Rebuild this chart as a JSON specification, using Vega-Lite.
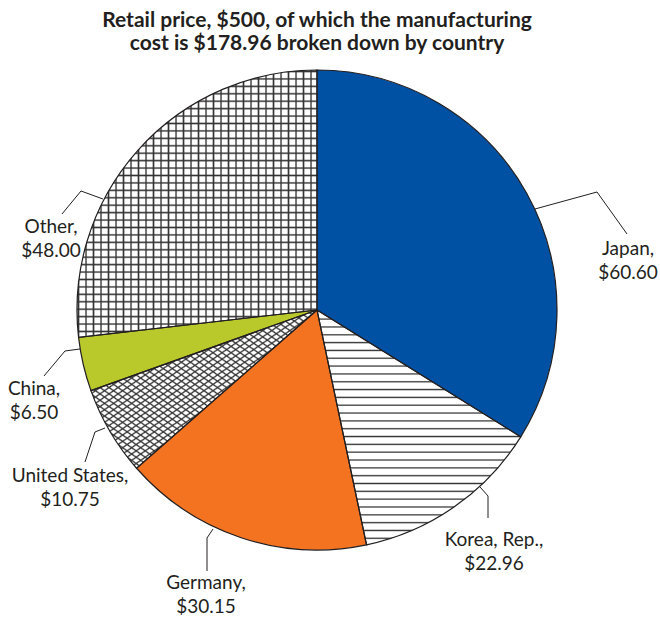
{
"$schema":"https://vega.github.io/schema/vega-lite/v6.json",
"width":634,"height":500,"autosize":"none",
"padding":{"left":0,"top":60,"right":26,"bottom":59},
"config":{"view":{"stroke":null}},
"title":{"text":["Retail price, $500, of which the manufacturing","cost is $178.96 broken down by country"],"font":"Lato","fontSize":21,"fontWeight":"bold","color":"#231F20","lineHeight":23,"anchor":"middle","offset":6},
"datasets":{
"costs":[
{"country":"Japan","value":60.60,"rank":1},
{"country":"Korea, Rep.","value":22.96,"rank":2},
{"country":"Germany","value":30.15,"rank":3},
{"country":"United States","value":10.75,"rank":4},
{"country":"China","value":6.50,"rank":5},
{"country":"Other","value":48.00,"rank":6}],
"leaders":[
{"country":"Japan","seq":1,"lx":0.9083,"ly":0.4208},{"country":"Japan","seq":2,"lx":1.1667,"ly":0.4917},{"country":"Japan","seq":3,"lx":1.2917,"ly":0.3167},
{"country":"Korea, Rep.","seq":1,"lx":0.6792,"ly":-0.7375},{"country":"Korea, Rep.","seq":2,"lx":0.7125,"ly":-0.775},{"country":"Korea, Rep.","seq":3,"lx":0.7125,"ly":-0.8667},
{"country":"Germany","seq":1,"lx":-0.4333,"ly":-0.9125},{"country":"Germany","seq":2,"lx":-0.4583,"ly":-0.95},{"country":"Germany","seq":3,"lx":-0.4583,"ly":-1.0875},
{"country":"United States","seq":1,"lx":-0.8833,"ly":-0.4917},{"country":"United States","seq":2,"lx":-0.925,"ly":-0.5083},{"country":"United States","seq":3,"lx":-0.9667,"ly":-0.6333},
{"country":"China","seq":1,"lx":-0.9875,"ly":-0.1625},{"country":"China","seq":2,"lx":-1.05,"ly":-0.1708},{"country":"China","seq":3,"lx":-1.1375,"ly":-0.275},
{"country":"Other","seq":1,"lx":-0.8917,"ly":0.4625},{"country":"Other","seq":2,"lx":-0.9833,"ly":0.4958},{"country":"Other","seq":3,"lx":-1.0625,"ly":0.4}],
"labelpos":[
{"country":"Japan","tx":1.2958,"ty":0.2292},
{"country":"Korea, Rep.","tx":0.7375,"ty":-0.9833},
{"country":"Germany","tx":-0.4625,"ty":-1.1625},
{"country":"United States","tx":-1.0292,"ty":-0.7167},
{"country":"China","tx":-1.1792,"ty":-0.3542},
{"country":"Other","tx":-1.1083,"ty":0.3208}]
},
"data":{"name":"costs"},
"layer":[
{"transform":[{"stack":"value","groupby":[],"sort":[{"field":"rank","order":"ascending"}],"as":["v0","v1"]}],
"mark":{"type":"arc","outerRadius":240},
"encoding":{"theta":{"field":"v0","type":"quantitative","scale":{"domain":[0,178.96]}},"theta2":{"field":"v1"},
"color":{"field":"country","type":"nominal","legend":null,"scale":{"domain":["Japan","Korea, Rep.","Germany","United States","China","Other"],"range":["#0050A4","#ffffff","#F37321","#ffffff","#B9C82A","#ffffff"]}}}},
{"transform":[{"stack":"value","groupby":[],"sort":[{"field":"rank","order":"ascending"}],"as":["v0","v1"]},{"filter":"datum.country == 'Korea, Rep.'"}],
"mark":{"type":"arc","outerRadius":240,"fill":{"gradient":"linear","x1":0,"y1":0,"x2":0,"y2":1,"stops":[
{"offset":0,"color":"#fff"},{"offset":0.0055,"color":"#333"},{"offset":0.011,"color":"#fff"},
{"offset":0.0333,"color":"#fff"},{"offset":0.0388,"color":"#333"},{"offset":0.0443,"color":"#fff"},
{"offset":0.0667,"color":"#fff"},{"offset":0.0722,"color":"#333"},{"offset":0.0777,"color":"#fff"},
{"offset":0.1,"color":"#fff"},{"offset":0.1055,"color":"#333"},{"offset":0.111,"color":"#fff"},
{"offset":0.1333,"color":"#fff"},{"offset":0.1388,"color":"#333"},{"offset":0.1443,"color":"#fff"},
{"offset":0.1667,"color":"#fff"},{"offset":0.1722,"color":"#333"},{"offset":0.1777,"color":"#fff"},
{"offset":0.2,"color":"#fff"},{"offset":0.2055,"color":"#333"},{"offset":0.211,"color":"#fff"},
{"offset":0.2333,"color":"#fff"},{"offset":0.2388,"color":"#333"},{"offset":0.2443,"color":"#fff"},
{"offset":0.2667,"color":"#fff"},{"offset":0.2722,"color":"#333"},{"offset":0.2777,"color":"#fff"},
{"offset":0.3,"color":"#fff"},{"offset":0.3055,"color":"#333"},{"offset":0.311,"color":"#fff"},
{"offset":0.3333,"color":"#fff"},{"offset":0.3388,"color":"#333"},{"offset":0.3443,"color":"#fff"},
{"offset":0.3667,"color":"#fff"},{"offset":0.3722,"color":"#333"},{"offset":0.3777,"color":"#fff"},
{"offset":0.4,"color":"#fff"},{"offset":0.4055,"color":"#333"},{"offset":0.411,"color":"#fff"},
{"offset":0.4333,"color":"#fff"},{"offset":0.4388,"color":"#333"},{"offset":0.4443,"color":"#fff"},
{"offset":0.4667,"color":"#fff"},{"offset":0.4722,"color":"#333"},{"offset":0.4777,"color":"#fff"},
{"offset":0.5,"color":"#fff"},{"offset":0.5055,"color":"#333"},{"offset":0.511,"color":"#fff"},
{"offset":0.5333,"color":"#fff"},{"offset":0.5388,"color":"#333"},{"offset":0.5443,"color":"#fff"},
{"offset":0.5667,"color":"#fff"},{"offset":0.5722,"color":"#333"},{"offset":0.5777,"color":"#fff"},
{"offset":0.6,"color":"#fff"},{"offset":0.6055,"color":"#333"},{"offset":0.611,"color":"#fff"},
{"offset":0.6333,"color":"#fff"},{"offset":0.6388,"color":"#333"},{"offset":0.6443,"color":"#fff"},
{"offset":0.6667,"color":"#fff"},{"offset":0.6722,"color":"#333"},{"offset":0.6777,"color":"#fff"},
{"offset":0.7,"color":"#fff"},{"offset":0.7055,"color":"#333"},{"offset":0.711,"color":"#fff"},
{"offset":0.7333,"color":"#fff"},{"offset":0.7388,"color":"#333"},{"offset":0.7443,"color":"#fff"},
{"offset":0.7667,"color":"#fff"},{"offset":0.7722,"color":"#333"},{"offset":0.7777,"color":"#fff"},
{"offset":0.8,"color":"#fff"},{"offset":0.8055,"color":"#333"},{"offset":0.811,"color":"#fff"},
{"offset":0.8333,"color":"#fff"},{"offset":0.8388,"color":"#333"},{"offset":0.8443,"color":"#fff"},
{"offset":0.8667,"color":"#fff"},{"offset":0.8722,"color":"#333"},{"offset":0.8777,"color":"#fff"},
{"offset":0.9,"color":"#fff"},{"offset":0.9055,"color":"#333"},{"offset":0.911,"color":"#fff"},
{"offset":0.9333,"color":"#fff"},{"offset":0.9388,"color":"#333"},{"offset":0.9443,"color":"#fff"},
{"offset":0.9667,"color":"#fff"},{"offset":0.9722,"color":"#333"},{"offset":0.9777,"color":"#fff"},
{"offset":1,"color":"#fff"}]}},
"encoding":{"theta":{"field":"v0","type":"quantitative"},"theta2":{"field":"v1"}}},
{"transform":[{"stack":"value","groupby":[],"sort":[{"field":"rank","order":"ascending"}],"as":["v0","v1"]},{"filter":"datum.country == 'Other'"}],
"mark":{"type":"arc","outerRadius":240,"fill":{"gradient":"linear","x1":0,"y1":0,"x2":0,"y2":1,"stops":[
{"offset":0,"color":"#fff"},{"offset":0.0056,"color":"#333"},{"offset":0.0112,"color":"#fff"},
{"offset":0.0278,"color":"#fff"},{"offset":0.0334,"color":"#333"},{"offset":0.039,"color":"#fff"},
{"offset":0.0556,"color":"#fff"},{"offset":0.0612,"color":"#333"},{"offset":0.0668,"color":"#fff"},
{"offset":0.0833,"color":"#fff"},{"offset":0.0889,"color":"#333"},{"offset":0.0945,"color":"#fff"},
{"offset":0.1111,"color":"#fff"},{"offset":0.1167,"color":"#333"},{"offset":0.1223,"color":"#fff"},
{"offset":0.1389,"color":"#fff"},{"offset":0.1445,"color":"#333"},{"offset":0.1501,"color":"#fff"},
{"offset":0.1667,"color":"#fff"},{"offset":0.1723,"color":"#333"},{"offset":0.1779,"color":"#fff"},
{"offset":0.1944,"color":"#fff"},{"offset":0.2,"color":"#333"},{"offset":0.2056,"color":"#fff"},
{"offset":0.2222,"color":"#fff"},{"offset":0.2278,"color":"#333"},{"offset":0.2334,"color":"#fff"},
{"offset":0.25,"color":"#fff"},{"offset":0.2556,"color":"#333"},{"offset":0.2612,"color":"#fff"},
{"offset":0.2778,"color":"#fff"},{"offset":0.2834,"color":"#333"},{"offset":0.289,"color":"#fff"},
{"offset":0.3056,"color":"#fff"},{"offset":0.3112,"color":"#333"},{"offset":0.3168,"color":"#fff"},
{"offset":0.3333,"color":"#fff"},{"offset":0.3389,"color":"#333"},{"offset":0.3445,"color":"#fff"},
{"offset":0.3611,"color":"#fff"},{"offset":0.3667,"color":"#333"},{"offset":0.3723,"color":"#fff"},
{"offset":0.3889,"color":"#fff"},{"offset":0.3945,"color":"#333"},{"offset":0.4001,"color":"#fff"},
{"offset":0.4167,"color":"#fff"},{"offset":0.4223,"color":"#333"},{"offset":0.4279,"color":"#fff"},
{"offset":0.4444,"color":"#fff"},{"offset":0.45,"color":"#333"},{"offset":0.4556,"color":"#fff"},
{"offset":0.4722,"color":"#fff"},{"offset":0.4778,"color":"#333"},{"offset":0.4834,"color":"#fff"},
{"offset":0.5,"color":"#fff"},{"offset":0.5056,"color":"#333"},{"offset":0.5112,"color":"#fff"},
{"offset":0.5278,"color":"#fff"},{"offset":0.5334,"color":"#333"},{"offset":0.539,"color":"#fff"},
{"offset":0.5556,"color":"#fff"},{"offset":0.5612,"color":"#333"},{"offset":0.5668,"color":"#fff"},
{"offset":0.5833,"color":"#fff"},{"offset":0.5889,"color":"#333"},{"offset":0.5945,"color":"#fff"},
{"offset":0.6111,"color":"#fff"},{"offset":0.6167,"color":"#333"},{"offset":0.6223,"color":"#fff"},
{"offset":0.6389,"color":"#fff"},{"offset":0.6445,"color":"#333"},{"offset":0.6501,"color":"#fff"},
{"offset":0.6667,"color":"#fff"},{"offset":0.6723,"color":"#333"},{"offset":0.6779,"color":"#fff"},
{"offset":0.6944,"color":"#fff"},{"offset":0.7,"color":"#333"},{"offset":0.7056,"color":"#fff"},
{"offset":0.7222,"color":"#fff"},{"offset":0.7278,"color":"#333"},{"offset":0.7334,"color":"#fff"},
{"offset":0.75,"color":"#fff"},{"offset":0.7556,"color":"#333"},{"offset":0.7612,"color":"#fff"},
{"offset":0.7778,"color":"#fff"},{"offset":0.7834,"color":"#333"},{"offset":0.789,"color":"#fff"},
{"offset":0.8056,"color":"#fff"},{"offset":0.8112,"color":"#333"},{"offset":0.8168,"color":"#fff"},
{"offset":0.8333,"color":"#fff"},{"offset":0.8389,"color":"#333"},{"offset":0.8445,"color":"#fff"},
{"offset":0.8611,"color":"#fff"},{"offset":0.8667,"color":"#333"},{"offset":0.8723,"color":"#fff"},
{"offset":0.8889,"color":"#fff"},{"offset":0.8945,"color":"#333"},{"offset":0.9001,"color":"#fff"},
{"offset":0.9167,"color":"#fff"},{"offset":0.9223,"color":"#333"},{"offset":0.9279,"color":"#fff"},
{"offset":0.9444,"color":"#fff"},{"offset":0.95,"color":"#333"},{"offset":0.9556,"color":"#fff"},
{"offset":0.9722,"color":"#fff"},{"offset":0.9778,"color":"#333"},{"offset":0.9834,"color":"#fff"},
{"offset":1,"color":"#fff"}]}},
"encoding":{"theta":{"field":"v0","type":"quantitative"},"theta2":{"field":"v1"}}},
{"transform":[{"stack":"value","groupby":[],"sort":[{"field":"rank","order":"ascending"}],"as":["v0","v1"]},{"filter":"datum.country == 'Other'"}],
"mark":{"type":"arc","outerRadius":240,"fill":{"gradient":"linear","x1":0,"y1":0,"x2":1,"y2":0,"stops":[
{"offset":0,"color":"rgba(51,51,51,0)"},{"offset":0.0063,"color":"#333"},{"offset":0.0126,"color":"rgba(51,51,51,0)"},
{"offset":0.0313,"color":"rgba(51,51,51,0)"},{"offset":0.0376,"color":"#333"},{"offset":0.0439,"color":"rgba(51,51,51,0)"},
{"offset":0.0625,"color":"rgba(51,51,51,0)"},{"offset":0.0688,"color":"#333"},{"offset":0.0751,"color":"rgba(51,51,51,0)"},
{"offset":0.0938,"color":"rgba(51,51,51,0)"},{"offset":0.1001,"color":"#333"},{"offset":0.1064,"color":"rgba(51,51,51,0)"},
{"offset":0.125,"color":"rgba(51,51,51,0)"},{"offset":0.1313,"color":"#333"},{"offset":0.1376,"color":"rgba(51,51,51,0)"},
{"offset":0.1563,"color":"rgba(51,51,51,0)"},{"offset":0.1626,"color":"#333"},{"offset":0.1689,"color":"rgba(51,51,51,0)"},
{"offset":0.1875,"color":"rgba(51,51,51,0)"},{"offset":0.1938,"color":"#333"},{"offset":0.2001,"color":"rgba(51,51,51,0)"},
{"offset":0.2188,"color":"rgba(51,51,51,0)"},{"offset":0.2251,"color":"#333"},{"offset":0.2314,"color":"rgba(51,51,51,0)"},
{"offset":0.25,"color":"rgba(51,51,51,0)"},{"offset":0.2563,"color":"#333"},{"offset":0.2626,"color":"rgba(51,51,51,0)"},
{"offset":0.2813,"color":"rgba(51,51,51,0)"},{"offset":0.2876,"color":"#333"},{"offset":0.2939,"color":"rgba(51,51,51,0)"},
{"offset":0.3125,"color":"rgba(51,51,51,0)"},{"offset":0.3188,"color":"#333"},{"offset":0.3251,"color":"rgba(51,51,51,0)"},
{"offset":0.3438,"color":"rgba(51,51,51,0)"},{"offset":0.3501,"color":"#333"},{"offset":0.3564,"color":"rgba(51,51,51,0)"},
{"offset":0.375,"color":"rgba(51,51,51,0)"},{"offset":0.3813,"color":"#333"},{"offset":0.3876,"color":"rgba(51,51,51,0)"},
{"offset":0.4063,"color":"rgba(51,51,51,0)"},{"offset":0.4126,"color":"#333"},{"offset":0.4189,"color":"rgba(51,51,51,0)"},
{"offset":0.4375,"color":"rgba(51,51,51,0)"},{"offset":0.4438,"color":"#333"},{"offset":0.4501,"color":"rgba(51,51,51,0)"},
{"offset":0.4688,"color":"rgba(51,51,51,0)"},{"offset":0.4751,"color":"#333"},{"offset":0.4814,"color":"rgba(51,51,51,0)"},
{"offset":0.5,"color":"rgba(51,51,51,0)"},{"offset":0.5063,"color":"#333"},{"offset":0.5126,"color":"rgba(51,51,51,0)"},
{"offset":0.5313,"color":"rgba(51,51,51,0)"},{"offset":0.5376,"color":"#333"},{"offset":0.5439,"color":"rgba(51,51,51,0)"},
{"offset":0.5625,"color":"rgba(51,51,51,0)"},{"offset":0.5688,"color":"#333"},{"offset":0.5751,"color":"rgba(51,51,51,0)"},
{"offset":0.5938,"color":"rgba(51,51,51,0)"},{"offset":0.6001,"color":"#333"},{"offset":0.6064,"color":"rgba(51,51,51,0)"},
{"offset":0.625,"color":"rgba(51,51,51,0)"},{"offset":0.6313,"color":"#333"},{"offset":0.6376,"color":"rgba(51,51,51,0)"},
{"offset":0.6563,"color":"rgba(51,51,51,0)"},{"offset":0.6626,"color":"#333"},{"offset":0.6689,"color":"rgba(51,51,51,0)"},
{"offset":0.6875,"color":"rgba(51,51,51,0)"},{"offset":0.6938,"color":"#333"},{"offset":0.7001,"color":"rgba(51,51,51,0)"},
{"offset":0.7188,"color":"rgba(51,51,51,0)"},{"offset":0.7251,"color":"#333"},{"offset":0.7314,"color":"rgba(51,51,51,0)"},
{"offset":0.75,"color":"rgba(51,51,51,0)"},{"offset":0.7563,"color":"#333"},{"offset":0.7626,"color":"rgba(51,51,51,0)"},
{"offset":0.7813,"color":"rgba(51,51,51,0)"},{"offset":0.7876,"color":"#333"},{"offset":0.7939,"color":"rgba(51,51,51,0)"},
{"offset":0.8125,"color":"rgba(51,51,51,0)"},{"offset":0.8188,"color":"#333"},{"offset":0.8251,"color":"rgba(51,51,51,0)"},
{"offset":0.8438,"color":"rgba(51,51,51,0)"},{"offset":0.8501,"color":"#333"},{"offset":0.8564,"color":"rgba(51,51,51,0)"},
{"offset":0.875,"color":"rgba(51,51,51,0)"},{"offset":0.8813,"color":"#333"},{"offset":0.8876,"color":"rgba(51,51,51,0)"},
{"offset":0.9063,"color":"rgba(51,51,51,0)"},{"offset":0.9126,"color":"#333"},{"offset":0.9189,"color":"rgba(51,51,51,0)"},
{"offset":0.9375,"color":"rgba(51,51,51,0)"},{"offset":0.9438,"color":"#333"},{"offset":0.9501,"color":"rgba(51,51,51,0)"},
{"offset":0.9688,"color":"rgba(51,51,51,0)"},{"offset":0.9751,"color":"#333"},{"offset":0.9814,"color":"rgba(51,51,51,0)"},
{"offset":1,"color":"rgba(51,51,51,0)"}]}},
"encoding":{"theta":{"field":"v0","type":"quantitative"},"theta2":{"field":"v1"}}},
{"transform":[{"stack":"value","groupby":[],"sort":[{"field":"rank","order":"ascending"}],"as":["v0","v1"]},{"filter":"datum.country == 'United States'"}],
"mark":{"type":"arc","outerRadius":240,"fill":{"gradient":"linear","x1":0,"y1":0,"x2":1,"y2":1,"stops":[
{"offset":0,"color":"#fff"},{"offset":0.005,"color":"#333"},{"offset":0.01,"color":"#fff"},
{"offset":0.02,"color":"#fff"},{"offset":0.025,"color":"#333"},{"offset":0.03,"color":"#fff"},
{"offset":0.04,"color":"#fff"},{"offset":0.045,"color":"#333"},{"offset":0.05,"color":"#fff"},
{"offset":0.06,"color":"#fff"},{"offset":0.065,"color":"#333"},{"offset":0.07,"color":"#fff"},
{"offset":0.08,"color":"#fff"},{"offset":0.085,"color":"#333"},{"offset":0.09,"color":"#fff"},
{"offset":0.1,"color":"#fff"},{"offset":0.105,"color":"#333"},{"offset":0.11,"color":"#fff"},
{"offset":0.12,"color":"#fff"},{"offset":0.125,"color":"#333"},{"offset":0.13,"color":"#fff"},
{"offset":0.14,"color":"#fff"},{"offset":0.145,"color":"#333"},{"offset":0.15,"color":"#fff"},
{"offset":0.16,"color":"#fff"},{"offset":0.165,"color":"#333"},{"offset":0.17,"color":"#fff"},
{"offset":0.18,"color":"#fff"},{"offset":0.185,"color":"#333"},{"offset":0.19,"color":"#fff"},
{"offset":0.2,"color":"#fff"},{"offset":0.205,"color":"#333"},{"offset":0.21,"color":"#fff"},
{"offset":0.22,"color":"#fff"},{"offset":0.225,"color":"#333"},{"offset":0.23,"color":"#fff"},
{"offset":0.24,"color":"#fff"},{"offset":0.245,"color":"#333"},{"offset":0.25,"color":"#fff"},
{"offset":0.26,"color":"#fff"},{"offset":0.265,"color":"#333"},{"offset":0.27,"color":"#fff"},
{"offset":0.28,"color":"#fff"},{"offset":0.285,"color":"#333"},{"offset":0.29,"color":"#fff"},
{"offset":0.3,"color":"#fff"},{"offset":0.305,"color":"#333"},{"offset":0.31,"color":"#fff"},
{"offset":0.32,"color":"#fff"},{"offset":0.325,"color":"#333"},{"offset":0.33,"color":"#fff"},
{"offset":0.34,"color":"#fff"},{"offset":0.345,"color":"#333"},{"offset":0.35,"color":"#fff"},
{"offset":0.36,"color":"#fff"},{"offset":0.365,"color":"#333"},{"offset":0.37,"color":"#fff"},
{"offset":0.38,"color":"#fff"},{"offset":0.385,"color":"#333"},{"offset":0.39,"color":"#fff"},
{"offset":0.4,"color":"#fff"},{"offset":0.405,"color":"#333"},{"offset":0.41,"color":"#fff"},
{"offset":0.42,"color":"#fff"},{"offset":0.425,"color":"#333"},{"offset":0.43,"color":"#fff"},
{"offset":0.44,"color":"#fff"},{"offset":0.445,"color":"#333"},{"offset":0.45,"color":"#fff"},
{"offset":0.46,"color":"#fff"},{"offset":0.465,"color":"#333"},{"offset":0.47,"color":"#fff"},
{"offset":0.48,"color":"#fff"},{"offset":0.485,"color":"#333"},{"offset":0.49,"color":"#fff"},
{"offset":0.5,"color":"#fff"},{"offset":0.505,"color":"#333"},{"offset":0.51,"color":"#fff"},
{"offset":0.52,"color":"#fff"},{"offset":0.525,"color":"#333"},{"offset":0.53,"color":"#fff"},
{"offset":0.54,"color":"#fff"},{"offset":0.545,"color":"#333"},{"offset":0.55,"color":"#fff"},
{"offset":0.56,"color":"#fff"},{"offset":0.565,"color":"#333"},{"offset":0.57,"color":"#fff"},
{"offset":0.58,"color":"#fff"},{"offset":0.585,"color":"#333"},{"offset":0.59,"color":"#fff"},
{"offset":0.6,"color":"#fff"},{"offset":0.605,"color":"#333"},{"offset":0.61,"color":"#fff"},
{"offset":0.62,"color":"#fff"},{"offset":0.625,"color":"#333"},{"offset":0.63,"color":"#fff"},
{"offset":0.64,"color":"#fff"},{"offset":0.645,"color":"#333"},{"offset":0.65,"color":"#fff"},
{"offset":0.66,"color":"#fff"},{"offset":0.665,"color":"#333"},{"offset":0.67,"color":"#fff"},
{"offset":0.68,"color":"#fff"},{"offset":0.685,"color":"#333"},{"offset":0.69,"color":"#fff"},
{"offset":0.7,"color":"#fff"},{"offset":0.705,"color":"#333"},{"offset":0.71,"color":"#fff"},
{"offset":0.72,"color":"#fff"},{"offset":0.725,"color":"#333"},{"offset":0.73,"color":"#fff"},
{"offset":0.74,"color":"#fff"},{"offset":0.745,"color":"#333"},{"offset":0.75,"color":"#fff"},
{"offset":0.76,"color":"#fff"},{"offset":0.765,"color":"#333"},{"offset":0.77,"color":"#fff"},
{"offset":0.78,"color":"#fff"},{"offset":0.785,"color":"#333"},{"offset":0.79,"color":"#fff"},
{"offset":0.8,"color":"#fff"},{"offset":0.805,"color":"#333"},{"offset":0.81,"color":"#fff"},
{"offset":0.82,"color":"#fff"},{"offset":0.825,"color":"#333"},{"offset":0.83,"color":"#fff"},
{"offset":0.84,"color":"#fff"},{"offset":0.845,"color":"#333"},{"offset":0.85,"color":"#fff"},
{"offset":0.86,"color":"#fff"},{"offset":0.865,"color":"#333"},{"offset":0.87,"color":"#fff"},
{"offset":0.88,"color":"#fff"},{"offset":0.885,"color":"#333"},{"offset":0.89,"color":"#fff"},
{"offset":0.9,"color":"#fff"},{"offset":0.905,"color":"#333"},{"offset":0.91,"color":"#fff"},
{"offset":0.92,"color":"#fff"},{"offset":0.925,"color":"#333"},{"offset":0.93,"color":"#fff"},
{"offset":0.94,"color":"#fff"},{"offset":0.945,"color":"#333"},{"offset":0.95,"color":"#fff"},
{"offset":0.96,"color":"#fff"},{"offset":0.965,"color":"#333"},{"offset":0.97,"color":"#fff"},
{"offset":0.98,"color":"#fff"},{"offset":0.985,"color":"#333"},{"offset":0.99,"color":"#fff"},
{"offset":1,"color":"#fff"}]}},
"encoding":{"theta":{"field":"v0","type":"quantitative"},"theta2":{"field":"v1"}}},
{"transform":[{"stack":"value","groupby":[],"sort":[{"field":"rank","order":"ascending"}],"as":["v0","v1"]},{"filter":"datum.country == 'United States'"}],
"mark":{"type":"arc","outerRadius":240,"fill":{"gradient":"linear","x1":1,"y1":0,"x2":0,"y2":1,"stops":[
{"offset":0,"color":"rgba(51,51,51,0)"},{"offset":0.005,"color":"#333"},{"offset":0.01,"color":"rgba(51,51,51,0)"},
{"offset":0.02,"color":"rgba(51,51,51,0)"},{"offset":0.025,"color":"#333"},{"offset":0.03,"color":"rgba(51,51,51,0)"},
{"offset":0.04,"color":"rgba(51,51,51,0)"},{"offset":0.045,"color":"#333"},{"offset":0.05,"color":"rgba(51,51,51,0)"},
{"offset":0.06,"color":"rgba(51,51,51,0)"},{"offset":0.065,"color":"#333"},{"offset":0.07,"color":"rgba(51,51,51,0)"},
{"offset":0.08,"color":"rgba(51,51,51,0)"},{"offset":0.085,"color":"#333"},{"offset":0.09,"color":"rgba(51,51,51,0)"},
{"offset":0.1,"color":"rgba(51,51,51,0)"},{"offset":0.105,"color":"#333"},{"offset":0.11,"color":"rgba(51,51,51,0)"},
{"offset":0.12,"color":"rgba(51,51,51,0)"},{"offset":0.125,"color":"#333"},{"offset":0.13,"color":"rgba(51,51,51,0)"},
{"offset":0.14,"color":"rgba(51,51,51,0)"},{"offset":0.145,"color":"#333"},{"offset":0.15,"color":"rgba(51,51,51,0)"},
{"offset":0.16,"color":"rgba(51,51,51,0)"},{"offset":0.165,"color":"#333"},{"offset":0.17,"color":"rgba(51,51,51,0)"},
{"offset":0.18,"color":"rgba(51,51,51,0)"},{"offset":0.185,"color":"#333"},{"offset":0.19,"color":"rgba(51,51,51,0)"},
{"offset":0.2,"color":"rgba(51,51,51,0)"},{"offset":0.205,"color":"#333"},{"offset":0.21,"color":"rgba(51,51,51,0)"},
{"offset":0.22,"color":"rgba(51,51,51,0)"},{"offset":0.225,"color":"#333"},{"offset":0.23,"color":"rgba(51,51,51,0)"},
{"offset":0.24,"color":"rgba(51,51,51,0)"},{"offset":0.245,"color":"#333"},{"offset":0.25,"color":"rgba(51,51,51,0)"},
{"offset":0.26,"color":"rgba(51,51,51,0)"},{"offset":0.265,"color":"#333"},{"offset":0.27,"color":"rgba(51,51,51,0)"},
{"offset":0.28,"color":"rgba(51,51,51,0)"},{"offset":0.285,"color":"#333"},{"offset":0.29,"color":"rgba(51,51,51,0)"},
{"offset":0.3,"color":"rgba(51,51,51,0)"},{"offset":0.305,"color":"#333"},{"offset":0.31,"color":"rgba(51,51,51,0)"},
{"offset":0.32,"color":"rgba(51,51,51,0)"},{"offset":0.325,"color":"#333"},{"offset":0.33,"color":"rgba(51,51,51,0)"},
{"offset":0.34,"color":"rgba(51,51,51,0)"},{"offset":0.345,"color":"#333"},{"offset":0.35,"color":"rgba(51,51,51,0)"},
{"offset":0.36,"color":"rgba(51,51,51,0)"},{"offset":0.365,"color":"#333"},{"offset":0.37,"color":"rgba(51,51,51,0)"},
{"offset":0.38,"color":"rgba(51,51,51,0)"},{"offset":0.385,"color":"#333"},{"offset":0.39,"color":"rgba(51,51,51,0)"},
{"offset":0.4,"color":"rgba(51,51,51,0)"},{"offset":0.405,"color":"#333"},{"offset":0.41,"color":"rgba(51,51,51,0)"},
{"offset":0.42,"color":"rgba(51,51,51,0)"},{"offset":0.425,"color":"#333"},{"offset":0.43,"color":"rgba(51,51,51,0)"},
{"offset":0.44,"color":"rgba(51,51,51,0)"},{"offset":0.445,"color":"#333"},{"offset":0.45,"color":"rgba(51,51,51,0)"},
{"offset":0.46,"color":"rgba(51,51,51,0)"},{"offset":0.465,"color":"#333"},{"offset":0.47,"color":"rgba(51,51,51,0)"},
{"offset":0.48,"color":"rgba(51,51,51,0)"},{"offset":0.485,"color":"#333"},{"offset":0.49,"color":"rgba(51,51,51,0)"},
{"offset":0.5,"color":"rgba(51,51,51,0)"},{"offset":0.505,"color":"#333"},{"offset":0.51,"color":"rgba(51,51,51,0)"},
{"offset":0.52,"color":"rgba(51,51,51,0)"},{"offset":0.525,"color":"#333"},{"offset":0.53,"color":"rgba(51,51,51,0)"},
{"offset":0.54,"color":"rgba(51,51,51,0)"},{"offset":0.545,"color":"#333"},{"offset":0.55,"color":"rgba(51,51,51,0)"},
{"offset":0.56,"color":"rgba(51,51,51,0)"},{"offset":0.565,"color":"#333"},{"offset":0.57,"color":"rgba(51,51,51,0)"},
{"offset":0.58,"color":"rgba(51,51,51,0)"},{"offset":0.585,"color":"#333"},{"offset":0.59,"color":"rgba(51,51,51,0)"},
{"offset":0.6,"color":"rgba(51,51,51,0)"},{"offset":0.605,"color":"#333"},{"offset":0.61,"color":"rgba(51,51,51,0)"},
{"offset":0.62,"color":"rgba(51,51,51,0)"},{"offset":0.625,"color":"#333"},{"offset":0.63,"color":"rgba(51,51,51,0)"},
{"offset":0.64,"color":"rgba(51,51,51,0)"},{"offset":0.645,"color":"#333"},{"offset":0.65,"color":"rgba(51,51,51,0)"},
{"offset":0.66,"color":"rgba(51,51,51,0)"},{"offset":0.665,"color":"#333"},{"offset":0.67,"color":"rgba(51,51,51,0)"},
{"offset":0.68,"color":"rgba(51,51,51,0)"},{"offset":0.685,"color":"#333"},{"offset":0.69,"color":"rgba(51,51,51,0)"},
{"offset":0.7,"color":"rgba(51,51,51,0)"},{"offset":0.705,"color":"#333"},{"offset":0.71,"color":"rgba(51,51,51,0)"},
{"offset":0.72,"color":"rgba(51,51,51,0)"},{"offset":0.725,"color":"#333"},{"offset":0.73,"color":"rgba(51,51,51,0)"},
{"offset":0.74,"color":"rgba(51,51,51,0)"},{"offset":0.745,"color":"#333"},{"offset":0.75,"color":"rgba(51,51,51,0)"},
{"offset":0.76,"color":"rgba(51,51,51,0)"},{"offset":0.765,"color":"#333"},{"offset":0.77,"color":"rgba(51,51,51,0)"},
{"offset":0.78,"color":"rgba(51,51,51,0)"},{"offset":0.785,"color":"#333"},{"offset":0.79,"color":"rgba(51,51,51,0)"},
{"offset":0.8,"color":"rgba(51,51,51,0)"},{"offset":0.805,"color":"#333"},{"offset":0.81,"color":"rgba(51,51,51,0)"},
{"offset":0.82,"color":"rgba(51,51,51,0)"},{"offset":0.825,"color":"#333"},{"offset":0.83,"color":"rgba(51,51,51,0)"},
{"offset":0.84,"color":"rgba(51,51,51,0)"},{"offset":0.845,"color":"#333"},{"offset":0.85,"color":"rgba(51,51,51,0)"},
{"offset":0.86,"color":"rgba(51,51,51,0)"},{"offset":0.865,"color":"#333"},{"offset":0.87,"color":"rgba(51,51,51,0)"},
{"offset":0.88,"color":"rgba(51,51,51,0)"},{"offset":0.885,"color":"#333"},{"offset":0.89,"color":"rgba(51,51,51,0)"},
{"offset":0.9,"color":"rgba(51,51,51,0)"},{"offset":0.905,"color":"#333"},{"offset":0.91,"color":"rgba(51,51,51,0)"},
{"offset":0.92,"color":"rgba(51,51,51,0)"},{"offset":0.925,"color":"#333"},{"offset":0.93,"color":"rgba(51,51,51,0)"},
{"offset":0.94,"color":"rgba(51,51,51,0)"},{"offset":0.945,"color":"#333"},{"offset":0.95,"color":"rgba(51,51,51,0)"},
{"offset":0.96,"color":"rgba(51,51,51,0)"},{"offset":0.965,"color":"#333"},{"offset":0.97,"color":"rgba(51,51,51,0)"},
{"offset":0.98,"color":"rgba(51,51,51,0)"},{"offset":0.985,"color":"#333"},{"offset":0.99,"color":"rgba(51,51,51,0)"},
{"offset":1,"color":"rgba(51,51,51,0)"}]}},
"encoding":{"theta":{"field":"v0","type":"quantitative"},"theta2":{"field":"v1"}}},
{"transform":[{"stack":"value","groupby":[],"sort":[{"field":"rank","order":"ascending"}],"as":["v0","v1"]}],
"mark":{"type":"arc","outerRadius":240,"fill":"#ffffff","fillOpacity":0,"stroke":"#231F20","strokeWidth":1.2},
"encoding":{"theta":{"field":"v0","type":"quantitative"},"theta2":{"field":"v1"}}},
{"data":{"name":"leaders"},
"mark":{"type":"line","color":"#231F20","strokeWidth":1},
"encoding":{"x":{"field":"lx","type":"quantitative","axis":null,"scale":{"domain":[-1.3208,1.3208],"nice":false,"zero":false}},
"y":{"field":"ly","type":"quantitative","axis":null,"scale":{"domain":[-1.0417,1.0417],"nice":false,"zero":false}},
"detail":{"field":"country"},"order":{"field":"seq","type":"quantitative"}}},
{"transform":[{"lookup":"country","from":{"data":{"name":"labelpos"},"key":"country","fields":["tx","ty"]}},
{"calculate":"datum.country + ',\\n$' + format(datum.value, '.2f')","as":"label"}],
"mark":{"type":"text","font":"Lato","fontSize":19,"align":"center","baseline":"alphabetic","lineBreak":"\n","lineHeight":24,"color":"#231F20"},
"encoding":{"x":{"field":"tx","type":"quantitative","axis":null},"y":{"field":"ty","type":"quantitative","axis":null},"text":{"field":"label"}}}
]
}
